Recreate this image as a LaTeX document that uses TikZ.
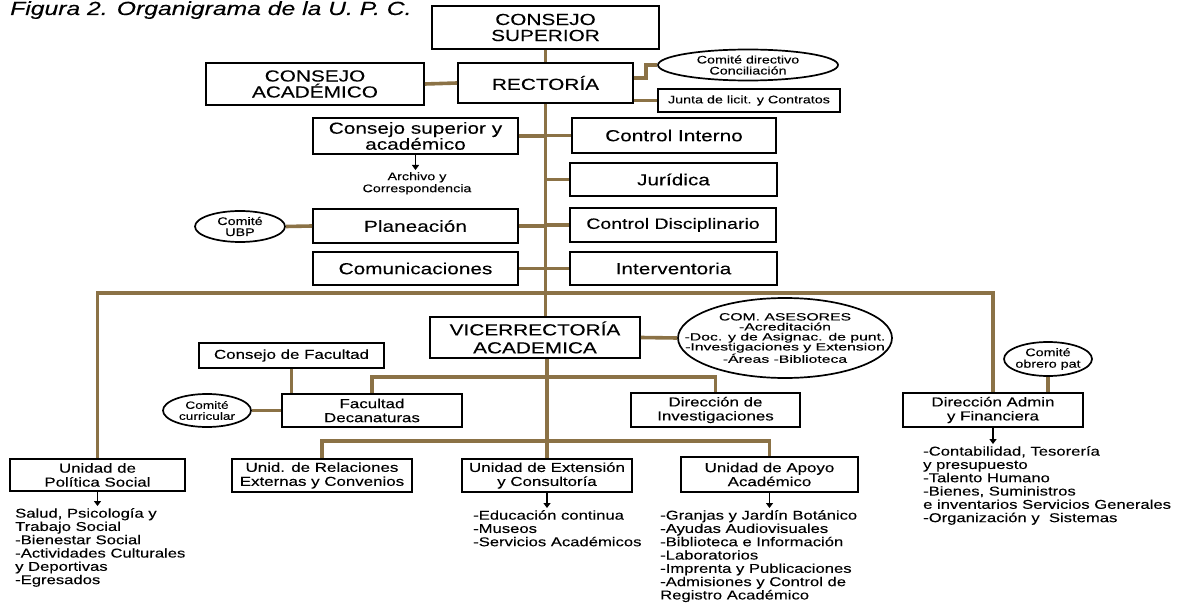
\documentclass[tikz,border=0pt]{standalone}
\usepackage{fontspec}
\setmainfont{Liberation Sans}[FakeStretch=1.3,FakeBold=0.15]
\newfontfamily\widefont{Liberation Sans}[FakeStretch=1.5,FakeBold=0.15]
\usetikzlibrary{shapes.geometric,arrows.meta}
\definecolor{conncol}{RGB}{139,114,70}
\newcommand{\zc}[1]{\makebox[0pt]{#1}}
\begin{document}
\begin{tikzpicture}[x=1pt,y=-1pt,
 box/.style={draw=black,line width=1.7pt,fill=white,inner sep=0pt,align=center},
 oval/.style={draw=black,line width=1.7pt,fill=white,ellipse,inner sep=0pt,align=center},
 conn/.style={draw=conncol,line width=3.6pt},
 arr/.style={draw=black,line width=1.4pt,-{Triangle[width=7pt,length=5pt]},shorten >=2pt},
 fBig/.style={font=\fontsize{16}{16}\selectfont},
 fVic/.style={font=\fontsize{16}{18}\selectfont},
 fMed/.style={font=\fontsize{16}{16}\selectfont},
 fSm/.style={font=\fontsize{13}{14}\selectfont},
 fList/.style={font=\fontsize{12.8}{13.3}\selectfont,align=left,inner sep=0pt},
 fOv/.style={font=\fontsize{10.5}{11}\selectfont},
]
\useasboundingbox (0,0) rectangle (1186,604);
\fill[white] (0,0) rectangle (1186,604);

% title
\node[anchor=base west,inner sep=0pt,font=\fontsize{19}{19}\selectfont\itshape] (title) at (10,15) {Figura 2. Organigrama de la U. P. C.};

% top level
\node[box,fBig,minimum width=227,minimum height=43] (cs) at (545.5,27.5) {CONSEJO\\SUPERIOR};
\node[box,fBig,minimum width=175,minimum height=40] (rect) at (545.5,83) {RECTORÍA};
\node[box,fBig,minimum width=218,minimum height=42] (cac) at (315,84) {CONSEJO\\ACADÉMICO};
\node[oval,font=\fontsize{11}{11}\selectfont,minimum width=180,minimum height=31] (cdir) at (748,65) {\zc{Comité directivo}\\\zc{Conciliación}};
\node[box,font=\fontsize{11}{11}\selectfont,minimum width=182,minimum height=23] (junta) at (749,100.5) {Junta de licit. y Contratos};

% staff units
\node[box,fMed,minimum width=205,minimum height=36] (csa) at (415.5,136) {Consejo superior y\\académico};
\node[box,fMed,minimum width=204,minimum height=35] (ci) at (674,135.5) {Control Interno};
\node[box,fMed,minimum width=207,minimum height=33] (jur) at (673.5,179.5) {Jurídica};
\node[inner sep=0pt,align=center,anchor=north,font=\fontsize{11}{12}\selectfont] (arch) at (417,172) {Archivo y\\Correspondencia};
\node[box,fMed,minimum width=205,minimum height=34] (plan) at (415.5,226) {Planeación};
\node[oval,font=\fontsize{11}{11}\selectfont,minimum width=90,minimum height=31] (ubp) at (240,226.5) {\zc{Comité}\\\zc{UBP}};
\node[box,font=\fontsize{15}{15}\selectfont,minimum width=206,minimum height=34] (cdis) at (673,225) {Control Disciplinario};
\node[box,fMed,minimum width=205,minimum height=33] (com) at (415.5,268.5) {Comunicaciones};
\node[box,fMed,minimum width=207,minimum height=33] (intv) at (673.5,268.5) {Interventoria};

% vice-rectory
\node[box,fVic,minimum width=210,minimum height=41] (vice) at (535,337.5) {VICERRECTORÍA\\ACADEMICA};
\node[oval,font=\widefont\fontsize{10.5}{10}\selectfont,minimum width=214,minimum height=80] (ases) at (785,338) {\zc{COM. ASESORES}\\\zc{-Acreditación}\\\zc{-Doc. y de Asignac. de punt.}\\\zc{-Investigaciones y Extension}\\\zc{-Áreas -Biblioteca}};
\node[box,fSm,minimum width=185,minimum height=25] (cfac) at (291.5,355.5) {Consejo de Facultad};
\node[box,fSm,minimum width=180,minimum height=33] (fac) at (372,410.5) {Facultad\\Decanaturas};
\node[oval,fOv,minimum width=88,minimum height=33] (curr) at (207,410.5) {\zc{Comité}\\\zc{curricular}};
\node[box,fSm,minimum width=169,minimum height=34] (dinv) at (715.5,410) {Dirección de\\Investigaciones};

% administration
\node[box,fSm,minimum width=180,minimum height=34] (dadm) at (993,410) {Dirección Admin\\y Financiera};
\node[oval,font=\fontsize{11}{11.5}\selectfont,minimum width=88,minimum height=34] (obrero) at (1048,359) {\zc{Comité}\\\zc{obrero pat}};

% units
\node[box,fSm,minimum width=175,minimum height=32] (pol) at (97.5,475) {Unidad de\\Política Social};
\node[box,fSm,minimum width=180,minimum height=33] (rel) at (322,475.5) {Unid. de Relaciones\\Externas y Convenios};
\node[box,fSm,minimum width=170,minimum height=33] (ext) at (547,475.5) {Unidad de Extensión\\y Consultoría};
\node[box,fSm,minimum width=177,minimum height=35] (apoyo) at (769.5,474.5) {Unidad de Apoyo\\Académico};

% lists
\node[fList,anchor=north west] (polist) at (15,508) {Salud, Psicología y\\Trabajo Social\\-Bienestar Social\\-Actividades Culturales\\y Deportivas\\-Egresados};
\node[fList,anchor=north west] (extlist) at (473,510) {-Educación continua\\-Museos\\-Servicios Académicos};
\node[fList,anchor=north west] (apolist) at (660,510) {-Granjas y Jardín Botánico\\-Ayudas Audiovisuales\\-Biblioteca e Información\\-Laboratorios\\-Imprenta y Publicaciones\\-Admisiones y Control de\\Registro Académico};
\node[fList,anchor=north west] (admlist) at (923,446) {-Contabilidad, Tesorería\\y presupuesto\\-Talento Humano\\-Bienes, Suministros\\e inventarios Servicios Generales\\-Organización y\ \ Sistemas};

% junction points
\coordinate (t1) at (546,293);
\coordinate (f1) at (546,377);
\coordinate (u1) at (546,441);

% connectors
\draw[conn] (cs.south) -- (rect.north);
\draw[conn] (rect.south) -- (vice.north -| rect.south);
\draw[conn] (cac.east) -- (rect.west);
\draw[conn] ([yshift=5pt]rect.east) -- ++(12,0) |- (cdir.west);
\draw[conn] (junta.west -| rect.east) -- (junta.west);
\draw[conn] (csa.east) -- (csa.east -| rect.south);
\draw[conn] (ci.west -| rect.south) -- (ci.west);
\draw[conn] (jur.west -| rect.south) -- (jur.west);
\draw[conn] (plan.east) -- (plan.east -| rect.south);
\draw[conn] (ubp.east) -- (plan.west);
\draw[conn] (cdis.west -| rect.south) -- (cdis.west);
\draw[conn] (com.east) -- (com.east -| rect.south);
\draw[conn] (intv.west -| rect.south) -- (intv.west);
\draw[conn] (pol.north) |- (t1) -| (dadm.north);
\draw[conn] (vice.east) -- (ases.west);
\draw[conn] (vice.south -| ext.north) -- (ext.north);
\draw[conn] (fac.north) |- (f1) -| (dinv.north);
\draw[conn] (cfac.south) -- (cfac.south |- fac.north);
\draw[conn] (curr.east) -- (fac.west);
\draw[conn] (rel.north) |- (u1) -| (apoyo.north);
\draw[conn] (obrero.south) -- (obrero.south |- dadm.north);

% arrows
\draw[arr] (csa.south) -- (csa.south |- arch.north);
\draw[arr] (pol.south) -- (pol.south |- polist.north);
\draw[arr] (ext.south) -- (ext.south |- extlist.north);
\draw[arr] (apoyo.south) -- (apoyo.south |- apolist.north);
\draw[arr] (dadm.south) -- (dadm.south |- admlist.north);
\end{tikzpicture}
\end{document}
